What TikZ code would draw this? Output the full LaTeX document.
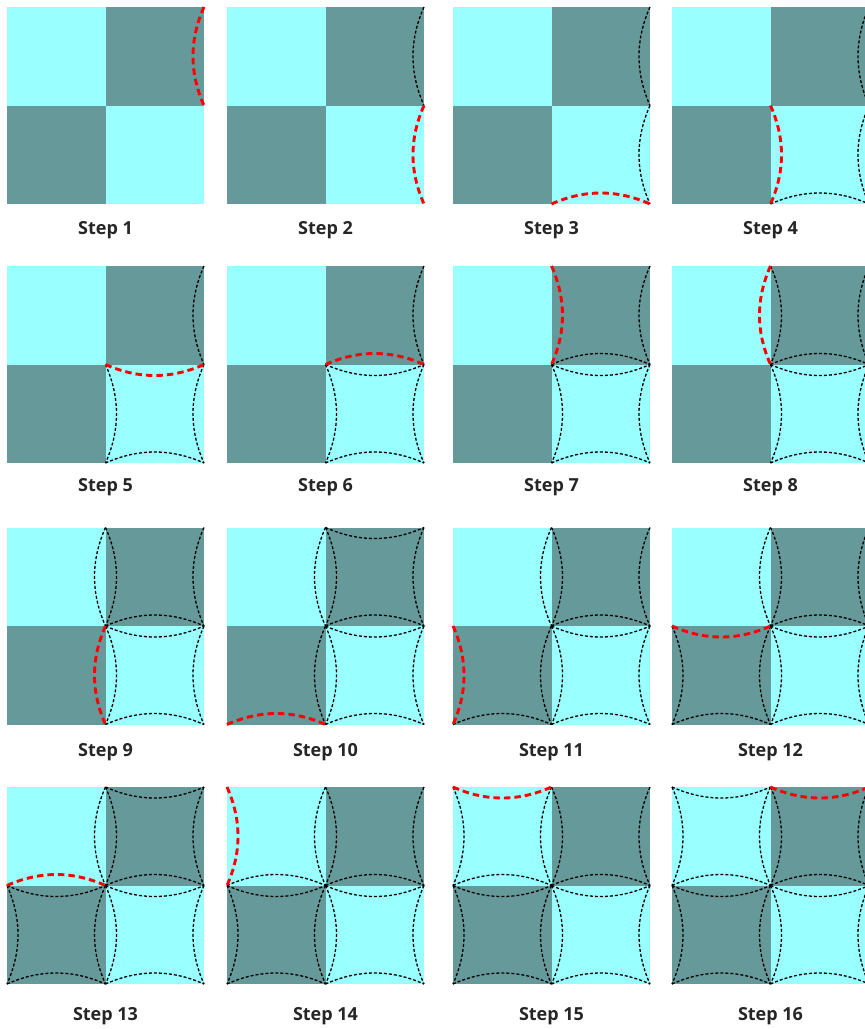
\documentclass[tikz,border=0pt]{standalone}
\usepackage{fontspec}
\newfontfamily\labfont{Open Sans}
\definecolor{lightsq}{HTML}{99FFFF}
\definecolor{darksq}{HTML}{669999}
\definecolor{labelcol}{HTML}{262626}
\tikzset{
  blackarc/.style={black, line width=1.3pt, dash pattern=on 3pt off 2pt},
  redarc/.style={red, line width=2.9pt, dash pattern=on 6.5pt off 4pt},
  steplabel/.style={font=\labfont\bfseries\fontsize{18}{20}\selectfont, text=labelcol, inner sep=0pt},
}
\def\side{98.5}
\def\bul{14.67}
% #1 style, #2 ox, #3 oy, #4 i1, #5 j1, #6 i2, #7 j2, #8 nx, #9 ny
\newcommand\edgearc[9]{%
  \draw[#1] ({#2+#4*\side},{#3+#5*\side})
    .. controls ({#2+(2*#4+#6)/3*\side+#8*\bul},{#3+(2*#5+#7)/3*\side+#9*\bul})
    and ({#2+(#4+2*#6)/3*\side+#8*\bul},{#3+(#5+2*#7)/3*\side+#9*\bul})
    .. ({#2+#6*\side},{#3+#7*\side});}
% #1 step, #2 ox, #3 oy, #4 label y
\newcommand\steppanel[4]{%
  \fill[lightsq] (#2,#3) rectangle ++(\side,\side);
  \fill[darksq] (#2+\side,#3) rectangle ++(\side,\side);
  \fill[darksq] (#2,#3+\side) rectangle ++(\side,\side);
  \fill[lightsq] (#2+\side,#3+\side) rectangle ++(\side,\side);
  \ifnum#1=10 \edgearc{blackarc}{#2}{#3}{1}{0}{2}{0}{0}{1}\fi
  \ifnum#1=13 \edgearc{blackarc}{#2}{#3}{1}{0}{2}{0}{0}{1}\fi
  \foreach \n/\ia/\ja/\ib/\jb/\nx/\ny in {
     1/2/0/2/1/-1/0, 2/2/1/2/2/-1/0, 3/1/2/2/2/0/-1, 4/1/1/1/2/1/0,
     5/1/1/2/1/0/1, 6/1/1/2/1/0/-1, 7/1/0/1/1/1/0, 8/1/0/1/1/-1/0,
     9/1/1/1/2/-1/0, 10/0/2/1/2/0/-1, 11/0/1/0/2/1/0, 12/0/1/1/1/0/1,
     13/0/1/1/1/0/-1, 14/0/0/0/1/1/0, 15/0/0/1/0/0/1, 16/1/0/2/0/0/1}{
    \ifnum\n<#1 \edgearc{blackarc}{#2}{#3}{\ia}{\ja}{\ib}{\jb}{\nx}{\ny}\fi
    \ifnum\n=#1 \edgearc{redarc}{#2}{#3}{\ia}{\ja}{\ib}{\jb}{\nx}{\ny}\fi
  }
  \node[steplabel] (lab#1) at (#2+\side,#4) {Step #1};
}
\begin{document}
\begin{tikzpicture}[x=1pt,y=-1pt]
\useasboundingbox (0,0) rectangle (865,1029);
\clip (0,0) rectangle (865,1029);
\fill[white] (0,0) rectangle (865,1029);
\steppanel{1}{7}{7}{230}
\steppanel{2}{227}{7}{230}
\steppanel{3}{453}{7}{230}
\steppanel{4}{672}{7}{230}
\steppanel{5}{7}{266}{487.5}
\steppanel{6}{227}{266}{487.5}
\steppanel{7}{453}{266}{487.5}
\steppanel{8}{672}{266}{487.5}
\steppanel{9}{7}{527.5}{752.5}
\steppanel{10}{227}{527.5}{752.5}
\steppanel{11}{453}{527.5}{752.5}
\steppanel{12}{672}{527.5}{752.5}
\steppanel{13}{7}{787}{1016.5}
\steppanel{14}{227}{787}{1016.5}
\steppanel{15}{453}{787}{1016.5}
\steppanel{16}{672}{787}{1016.5}
\end{tikzpicture}
\end{document}
